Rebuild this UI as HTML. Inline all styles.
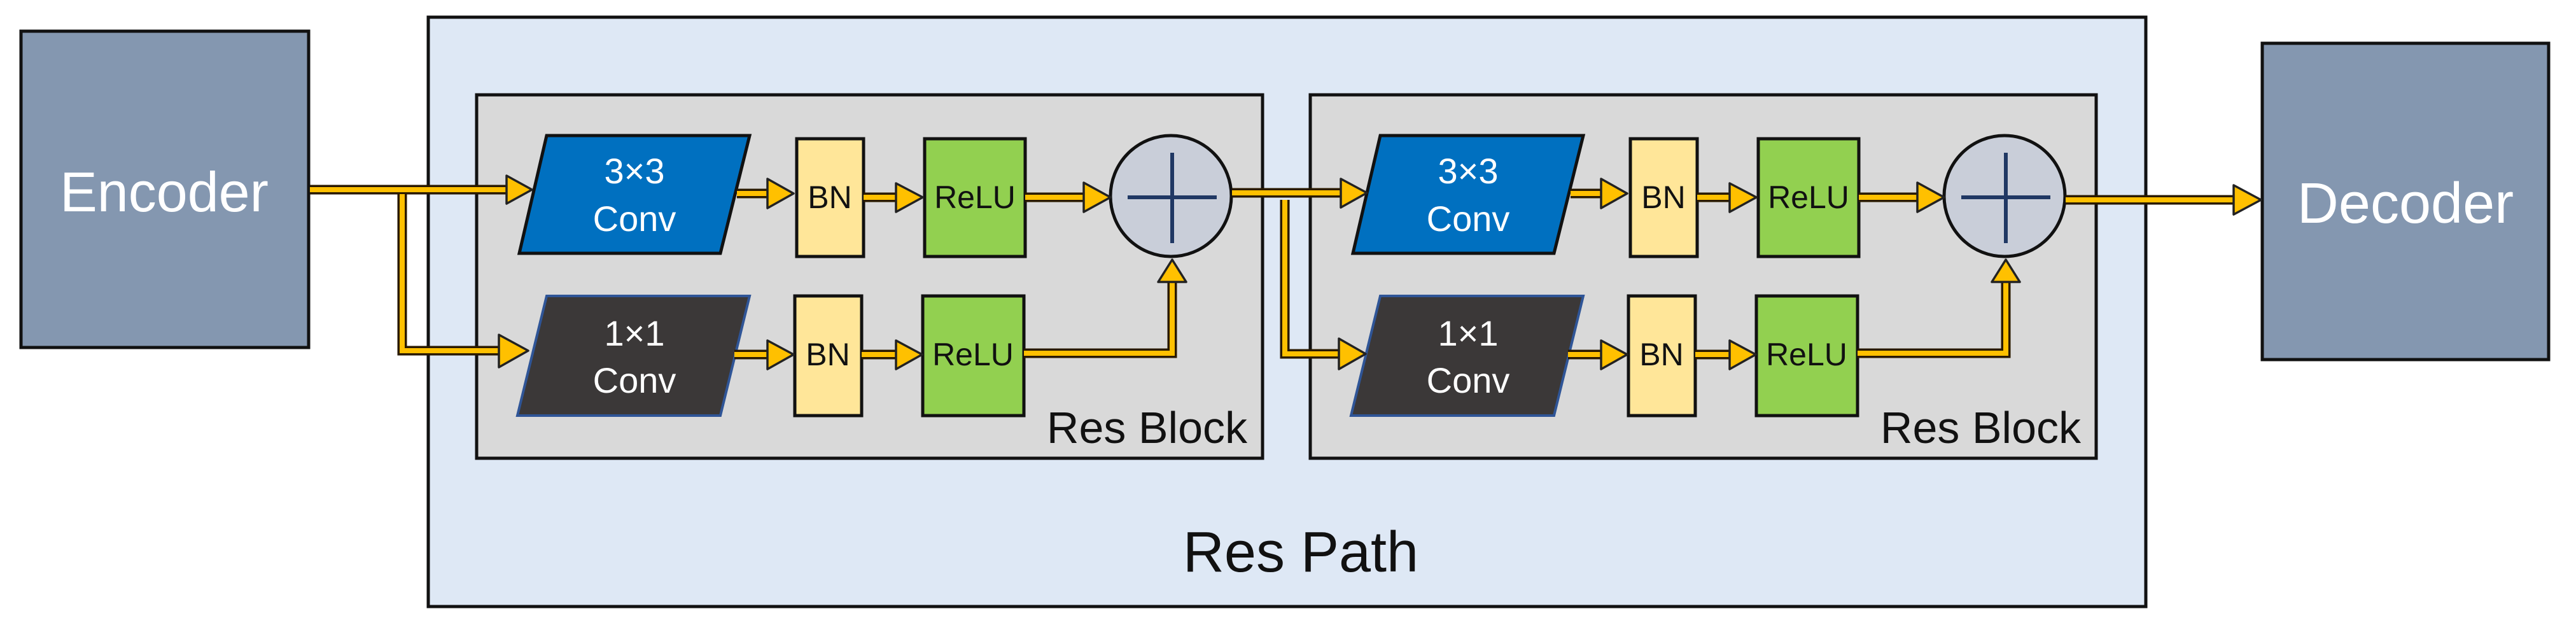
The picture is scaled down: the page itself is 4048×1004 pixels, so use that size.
<!DOCTYPE html>
<html><head><meta charset="utf-8"><style>
html,body{margin:0;padding:0;background:#fff}
svg{display:block}
text{font-family:"Liberation Sans",Arial,sans-serif}
</style></head><body>
<svg width="4048" height="1004" viewBox="0 0 4048 1004" xmlns="http://www.w3.org/2000/svg">
<defs>
<g id="blk">
  <rect x="749" y="149" width="1235" height="571" fill="#d9d9d9" stroke="#111" stroke-width="5"/>
  <polygon points="859,213 1178,213 1132,398 816,398" fill="#0070c0" stroke="#111" stroke-width="5"/>
  <text x="997" y="288" font-size="56" fill="#fff" text-anchor="middle">3×3</text>
  <text x="997" y="363" font-size="56" fill="#fff" text-anchor="middle">Conv</text>
  <polygon points="859,465 1178,465 1132,653 813,653" fill="#3b3838" stroke="#2f5597" stroke-width="4"/>
  <text x="997" y="543" font-size="56" fill="#fff" text-anchor="middle">1×1</text>
  <text x="997" y="617" font-size="56" fill="#fff" text-anchor="middle">Conv</text>
  <rect x="1252" y="218" width="105" height="185" fill="#ffe699" stroke="#111" stroke-width="5"/>
  <rect x="1453" y="218" width="158" height="185" fill="#92d050" stroke="#111" stroke-width="5"/>
  <rect x="1249" y="465" width="105" height="188" fill="#ffe699" stroke="#111" stroke-width="5"/>
  <rect x="1450" y="465" width="159" height="188" fill="#92d050" stroke="#111" stroke-width="5"/>
  <text x="1304" y="327" font-size="50" fill="#111" text-anchor="middle">BN</text>
  <text x="1532" y="327" font-size="50" fill="#111" text-anchor="middle">ReLU</text>
  <text x="1301" y="574" font-size="50" fill="#111" text-anchor="middle">BN</text>
  <text x="1529" y="574" font-size="50" fill="#111" text-anchor="middle">ReLU</text>
  <circle cx="1840" cy="308" r="95" fill="#c9ced9" stroke="#111" stroke-width="5"/>
  <line x1="1772" y1="310" x2="1912" y2="310" stroke="#203864" stroke-width="6"/>
  <line x1="1842" y1="240" x2="1842" y2="382" stroke="#203864" stroke-width="6"/>
  <text x="1960" y="696" font-size="70" fill="#111" text-anchor="end">Res Block</text>
  <!-- arrows -->
  <g fill="none" stroke="#2a1a00" stroke-width="15">
    <line x1="1158" y1="304" x2="1210" y2="304"/>
    <line x1="1357" y1="310" x2="1410" y2="310"/>
    <line x1="1611" y1="310" x2="1705" y2="310"/>
    <line x1="1154" y1="557" x2="1210" y2="557"/>
    <line x1="1354" y1="557" x2="1410" y2="557"/>
    <polyline points="1609,555 1842,555 1842,440"/>
  </g>
  <g fill="none" stroke="#ffc000" stroke-width="8">
    <line x1="1158" y1="304" x2="1212" y2="304"/>
    <line x1="1357" y1="310" x2="1412" y2="310"/>
    <line x1="1611" y1="310" x2="1707" y2="310"/>
    <line x1="1154" y1="557" x2="1212" y2="557"/>
    <line x1="1354" y1="557" x2="1412" y2="557"/>
    <polyline points="1609,555 1842,555 1842,438"/>
  </g>
  <g fill="#ffc000" stroke="#222" stroke-width="3.5" stroke-linejoin="round">
    <polygon points="1206,281 1247,304 1206,327"/>
    <polygon points="1408,288 1450,310 1408,333"/>
    <polygon points="1703,287 1745,310 1703,333"/>
    <polygon points="1206,535 1247,557 1206,580"/>
    <polygon points="1408,535 1449,557 1408,580"/>
    <polygon points="1820,443 1842,408 1864,443"/>
  </g>
</g>
</defs>
<rect x="673" y="27" width="2699" height="926" fill="#dee8f5" stroke="#111" stroke-width="5"/>
<rect x="33" y="49" width="452" height="497" fill="#8497b0" stroke="#111" stroke-width="5"/>
<text x="258" y="332" font-size="88" fill="#fff" text-anchor="middle">Encoder</text>
<rect x="3555" y="68" width="450" height="497" fill="#8497b0" stroke="#111" stroke-width="5"/>
<text x="3780" y="350" font-size="90" fill="#fff" text-anchor="middle">Decoder</text>
<use href="#blk"/>
<use href="#blk" transform="translate(1310,0)"/>
<text x="2044" y="898" font-size="90" fill="#111" text-anchor="middle">Res Path</text>
<!-- external arrows -->
<g fill="none" stroke="#2a1a00" stroke-width="15">
  <line x1="487" y1="298" x2="800" y2="298"/>
  <polyline points="632,305 632,551 786,551"/>
  <line x1="1936" y1="303" x2="2110" y2="303"/>
  <polyline points="2019,314 2019,556 2110,556"/>
  <line x1="3246" y1="314" x2="3512" y2="314"/>
</g>
<g fill="none" stroke="#ffc000" stroke-width="8">
  <line x1="487" y1="298" x2="802" y2="298"/>
  <polyline points="632,305 632,551 788,551"/>
  <line x1="1936" y1="303" x2="2112" y2="303"/>
  <polyline points="2019,314 2019,556 2112,556"/>
  <line x1="3246" y1="314" x2="3514" y2="314"/>
</g>
<g fill="#ffc000" stroke="#222" stroke-width="3.5" stroke-linejoin="round">
  <polygon points="796,276 836,298 796,320"/>
  <polygon points="784,526 830,551 784,577"/>
  <polygon points="2107,281 2148,303 2107,326"/>
  <polygon points="2104,532 2146,556 2104,580"/>
  <polygon points="3510,291 3553,314 3510,337"/>
</g>
</svg>
</body></html>
